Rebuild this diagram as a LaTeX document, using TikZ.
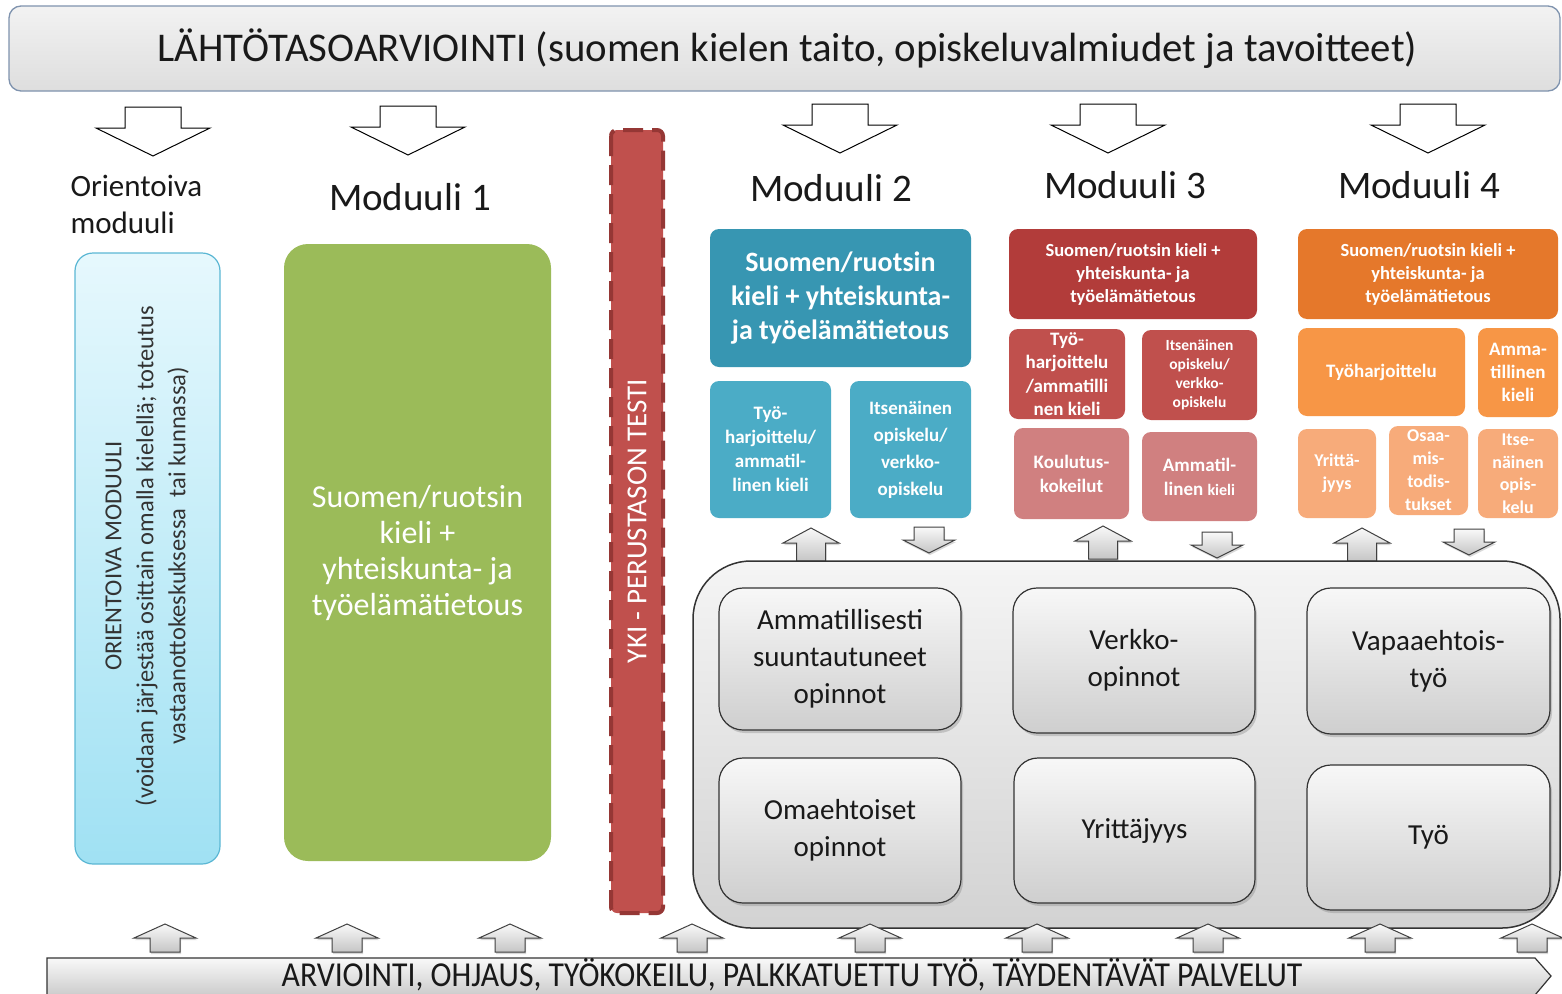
\documentclass[tikz,border=0pt]{standalone}
\usepackage{fontspec}
\setmainfont{Carlito}
\usepackage{graphicx}
\usetikzlibrary{shadows}
\newcommand\myfs[2]{\fontsize{#1pt}{#2pt}\selectfont}
\definecolor{titleborder}{HTML}{7F93AE}
\definecolor{oriborder}{HTML}{5BB7D4}
\definecolor{oritop}{HTML}{E6F8FD}
\definecolor{oribot}{HTML}{A0E1F3}
\definecolor{greenm}{HTML}{9BBB59}
\definecolor{ykifill}{HTML}{C0504D}
\definecolor{ykidash}{HTML}{953735}
\definecolor{tealdark}{HTML}{3796B2}
\definecolor{teal}{HTML}{4BACC6}
\definecolor{reddark}{HTML}{B23C3A}
\definecolor{redm}{HTML}{C0504D}
\definecolor{redlight}{HTML}{D08080}
\definecolor{orgdark}{HTML}{E5782B}
\definecolor{orgm}{HTML}{F79646}
\definecolor{orglight}{HTML}{F7AB7A}
\tikzset{
  modbox/.style={rounded corners=9pt, inner sep=1pt, align=center, text=white},
  graybox/.style={draw=black!80, line width=1.2pt, rounded corners=24pt, top color=gray!6, bottom color=gray!38,
     align=center, font=\myfs{29}{37}, text=black!90, drop shadow={opacity=0.35, shadow xshift=2pt, shadow yshift=-3pt}},
  modlabel/.style={font=\myfs{39}{45}, text=black!90},
  bigdown/.pic={\draw[black, line width=1pt, fill=white] (-28,0)--(28,0)--(28,21)--(57,21)--(0,49)--(-57,21)--(-28,21)--cycle;},
  smallup/.pic={\draw[black!75, line width=1pt, top color=gray!5, bottom color=gray!45,
     drop shadow={opacity=0.3, shadow xshift=1pt, shadow yshift=-2pt}]
     (0,0)--(28,15)--(14.5,15)--(14.5,33)--(-14.5,33)--(-14.5,15)--(-28,15)--cycle;},
  smalldown/.pic={\draw[black!75, line width=1pt, top color=gray!5, bottom color=gray!45,
     drop shadow={opacity=0.3, shadow xshift=1pt, shadow yshift=-2pt}]
     (-15,0)--(15,0)--(15,13)--(26,13)--(0,26)--(-26,13)--(-15,13)--cycle;},
  baseup/.pic={\draw[black!75, line width=1pt, top color=gray!5, bottom color=gray!45,
     drop shadow={opacity=0.3, shadow xshift=1pt, shadow yshift=-2pt}]
     (0,0)--(31,14)--(15,14)--(15,28)--(-15,28)--(-15,14)--(-31,14)--cycle;},
}
\begin{document}
\begin{tikzpicture}[x=1pt,y=-1pt]
\fill[white] (0,0) rectangle (1562,993);
\useasboundingbox (0,0) rectangle (1562,993);

% title
\node[draw=titleborder, line width=1.3pt, rounded corners=12pt, top color=gray!10, bottom color=gray!26,
  minimum width=1551, minimum height=85] (title) at (784.5,48.5) {};
\node[font=\myfs{40.8}{48}, text=black!90] (titletext) at (787.5,48.5)
  {LÄHTÖTASOARVIOINTI (suomen kielen taito, opiskeluvalmiudet ja tavoitteet)};

% big down arrows
\pic at (153,107) {bigdown};
\pic at (408,106) {bigdown};
\pic at (840,104) {bigdown};
\pic at (1108,104) {bigdown};
\pic at (1428,104) {bigdown};

% labels
\node[font=\myfs{31}{37}, align=left, anchor=west, text=black!90] (lblori) at (67,204) {Orientoiva\\moduuli};
\node[modlabel] (lbl1) at (410,197) {Moduuli 1};
\node[modlabel] (lbl2) at (831,188) {Moduuli 2};
\node[modlabel] (lbl3) at (1125,185) {Moduuli 3};
\node[modlabel] (lbl4) at (1419,185) {Moduuli 4};

% orientoiva box
\node[draw=oriborder, line width=1.2pt, rounded corners=18pt, top color=oritop, bottom color=oribot,
  minimum width=145, minimum height=611] (ori) at (147.5,558.5) {};
\node[rotate=90, align=center, font=\myfs{24.5}{32}, text=black!80] (oritext) at (147,556)
  {ORIENTOIVA MODUULI\\(voidaan järjestää osittain omalla kielellä; toteutus\\vastaanottokeskuksessa\ \ tai kunnassa)};

% moduuli 1
\node[modbox, rounded corners=24pt, fill=greenm, minimum width=267, minimum height=617, font=\myfs{32}{36}] (m1) at (417.5,552.5)
  {Suomen/ruotsin\\kieli +\\yhteiskunta- ja\\työelämätietous};

% YKI
\node[rotate=90, fill=ykifill, draw=ykidash, line width=4pt, dash pattern=on 20pt off 9pt, rounded corners=6pt,
  minimum width=783, minimum height=52] (yki) at (637,521.5) {};
\node[rotate=90, text=white, font=\myfs{29}{34}] (ykitext) at (637,521) {YKI - PERUSTASON TESTI};

% moduuli 2
\node[modbox, fill=tealdark, minimum width=261, minimum height=138, font=\myfs{28}{34}\bfseries] (m2big) at (840.5,298)
  {Suomen/ruotsin\\kieli + yhteiskunta-\\ja työelämätietous};
\node[modbox, fill=teal, minimum width=121, minimum height=137, font=\myfs{19}{24}\bfseries] (m2a) at (770.5,449.5)
  {Työ-\\harjoittelu/\\ammatil-\\linen kieli};
\node[modbox, fill=teal, minimum width=121, minimum height=137, font=\myfs{19}{27}\bfseries] (m2b) at (910.5,449.5)
  {Itsenäinen\\opiskelu/\\verkko-\\opiskelu};

% moduuli 3
\node[modbox, fill=reddark, minimum width=248, minimum height=90, font=\myfs{18.5}{23}\bfseries] (m3big) at (1133,274)
  {Suomen/ruotsin kieli +\\yhteiskunta- ja\\työelämätietous};
\node[modbox, fill=redm, minimum width=116, minimum height=90, font=\myfs{19}{23.5}\bfseries] (m3a) at (1067,374)
  {Työ-\\harjoittelu\\/ammatilli\\nen kieli};
\node[modbox, fill=redm, minimum width=115, minimum height=90, font=\myfs{15.5}{19}\bfseries] (m3b) at (1199.5,375)
  {Itsenäinen\\opiskelu/\\verkko-\\opiskelu};
\node[modbox, fill=redlight, minimum width=115, minimum height=91, font=\myfs{19}{24}\bfseries] (m3c) at (1071.5,473.5)
  {Koulutus-\\kokeilut};
\node[modbox, fill=redlight, minimum width=115, minimum height=89, font=\myfs{19}{24}\bfseries] (m3d) at (1199.5,476.5)
  {Ammatil-\\linen {\myfs{16}{24}kieli}};

% moduuli 4
\node[modbox, fill=orgdark, minimum width=260, minimum height=90, font=\myfs{18.5}{23}\bfseries] (m4big) at (1428,274)
  {Suomen/ruotsin kieli +\\yhteiskunta- ja\\työelämätietous};
\node[modbox, fill=orgm, minimum width=167, minimum height=88, font=\myfs{19}{23}\bfseries] (m4a) at (1381.5,372)
  {Työharjoittelu};
\node[modbox, fill=orgm, minimum width=80, minimum height=89, font=\myfs{19}{23}\bfseries] (m4b) at (1518,372.5)
  {Amma-\\tillinen\\kieli};
\node[modbox, fill=orglight, minimum width=78, minimum height=89, font=\myfs{18}{23}\bfseries] (m4c) at (1337,473.5)
  {Yrittä-\\jyys};
\node[modbox, fill=orglight, minimum width=79, minimum height=89, font=\myfs{18}{23}\bfseries] (m4d) at (1428.5,470.5)
  {Osaa-\\mis-\\todis-\\tukset};
\node[modbox, fill=orglight, minimum width=80, minimum height=89, font=\myfs{18}{22.5}\bfseries] (m4e) at (1518,473.5)
  {Itse-\\näinen\\opis-\\kelu};

% small arrows above the container
\pic at (811,528) {smallup};
\pic at (929,527) {smalldown};
\pic at (1103,526) {smallup};
\pic at (1217,532) {smalldown};
\pic at (1362,528) {smallup};
\pic at (1469,529) {smalldown};

% container
\node[draw=black!80, line width=1.5pt, rounded corners=58pt, top color=gray!8, bottom color=gray!35,
  minimum width=867, minimum height=367] (cont) at (1126.5,744.5) {};

% inner boxes
\node[graybox, minimum width=242, minimum height=142] (i1) at (840,659) {Ammatillisesti\\suuntautuneet\\opinnot};
\node[graybox, minimum width=242, minimum height=145] (i2) at (1134,660.5) {Verkko-\\opinnot};
\node[graybox, minimum width=243, minimum height=146] (i3) at (1428.5,661) {Vapaaehtois-\\työ};
\node[graybox, minimum width=242, minimum height=145] (i4) at (840,830.5) {Omaehtoiset\\opinnot};
\node[graybox, minimum width=241, minimum height=145] (i5) at (1134.5,830.5) {Yrittäjyys};
\node[graybox, minimum width=243, minimum height=145] (i6) at (1428.5,837.5) {Työ};

% bottom arrows
\foreach \xx in {165,347,510,692,870,1037,1208,1380,1532} {
  \pic at (\xx,924) {baseup};
}

% bottom bar
\draw[black!80, line width=1.2pt, top color=gray!5, bottom color=gray!40]
  (47,958)--(1535,958)--(1551,976)--(1535,995)--(47,995)--cycle;
\node[font=\myfs{35}{40}, text=black!90, inner sep=0pt] (bartext) at (792,975)
  {\scalebox{0.905}[1]{ARVIOINTI, OHJAUS, TYÖKOKEILU, PALKKATUETTU TYÖ, TÄYDENTÄVÄT PALVELUT}};
\end{tikzpicture}
\end{document}
